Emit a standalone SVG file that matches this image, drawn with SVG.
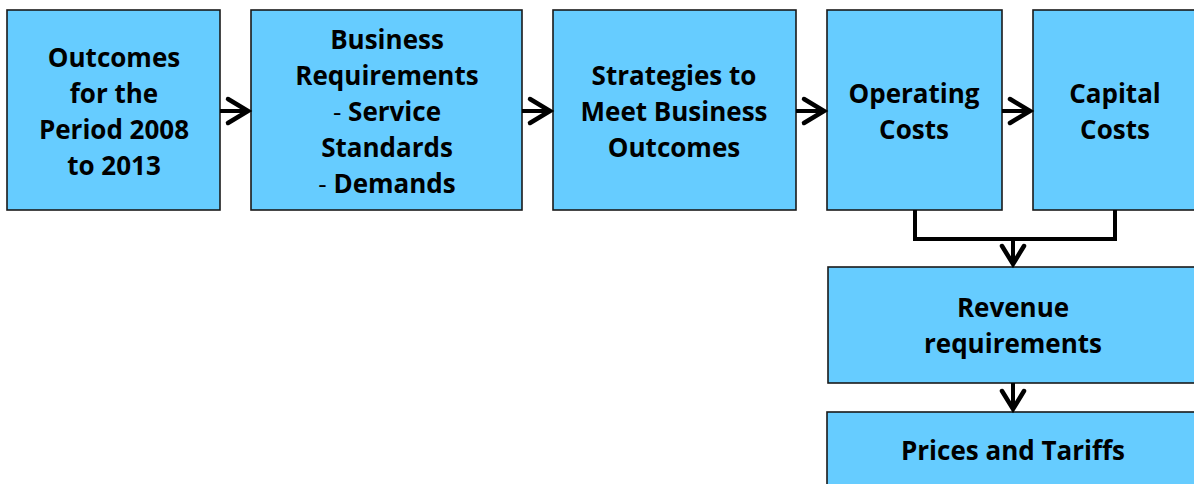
<svg xmlns="http://www.w3.org/2000/svg" width="1194" height="484" viewBox="0 0 1194 484">
  <style>
    .box { fill: #66CCFF; stroke: #1a1a1a; stroke-width: 1.6; }
    .lbl { font-family: "Open Sans", "Liberation Sans", sans-serif; font-weight: bold; font-size: 26px; fill: #000; text-anchor: middle; }
    .dash { font-weight: normal; }
    .wire { fill: none; stroke: #000; stroke-width: 4; }
    .head { fill: none; stroke: #000; stroke-width: 4.5; stroke-linecap: round; stroke-linejoin: miter; }
  </style>
  <rect width="1194" height="484" fill="#fff"/>

  <g id="outcomes">
    <rect class="box" x="7" y="10" width="213" height="200"/>
    <text class="lbl" x="114" y="67">Outcomes</text>
    <text class="lbl" x="114" y="103">for the</text>
    <text class="lbl" x="114" y="139">Period 2008</text>
    <text class="lbl" x="114" y="175">to 2013</text>
  </g>

  <g id="business-requirements">
    <rect class="box" x="251" y="10" width="271" height="200"/>
    <text class="lbl" x="387" y="49">Business</text>
    <text class="lbl" x="387" y="85">Requirements</text>
    <text class="lbl" x="387" y="121"><tspan class="dash">- </tspan>Service</text>
    <text class="lbl" x="387" y="157">Standards</text>
    <text class="lbl" x="387" y="193"><tspan class="dash">- </tspan>Demands</text>
  </g>

  <g id="strategies">
    <rect class="box" x="553" y="10" width="243" height="200"/>
    <text class="lbl" x="674" y="85">Strategies to</text>
    <text class="lbl" x="674" y="121">Meet Business</text>
    <text class="lbl" x="674" y="157">Outcomes</text>
  </g>

  <g id="operating-costs">
    <rect class="box" x="827" y="10" width="175" height="200"/>
    <text class="lbl" x="914" y="103">Operating</text>
    <text class="lbl" x="914" y="139">Costs</text>
  </g>

  <g id="capital-costs">
    <rect class="box" x="1033" y="10" width="170" height="200"/>
    <text class="lbl" x="1115" y="103">Capital</text>
    <text class="lbl" x="1115" y="139">Costs</text>
  </g>

  <g id="revenue-requirements">
    <rect class="box" x="828" y="267" width="375" height="116"/>
    <text class="lbl" x="1013" y="317">Revenue</text>
    <text class="lbl" x="1013" y="353">requirements</text>
  </g>

  <g id="prices-tariffs">
    <rect class="box" x="827" y="412" width="376" height="80"/>
    <text class="lbl" x="1013" y="460">Prices and Tariffs</text>
  </g>

  <g id="connectors">
    <!-- horizontal flow -->
    <line class="wire" x1="220" y1="111" x2="248" y2="111"/>
    <polyline class="head" points="228,99 248,111 228,123"/>
    <line class="wire" x1="522" y1="111" x2="550" y2="111"/>
    <polyline class="head" points="530,99 550,111 530,123"/>
    <line class="wire" x1="796" y1="111" x2="824" y2="111"/>
    <polyline class="head" points="804,99 824,111 804,123"/>
    <line class="wire" x1="1002" y1="111" x2="1030" y2="111"/>
    <polyline class="head" points="1010,99 1030,111 1010,123"/>
    <!-- cost merge into revenue -->
    <polyline class="wire" points="915,210 915,239 1115,239 1115,210"/>
    <line class="wire" x1="1013" y1="239" x2="1013" y2="264"/>
    <polyline class="head" points="1002,246 1013,264 1024,246"/>
    <!-- revenue to prices -->
    <line class="wire" x1="1013" y1="383" x2="1013" y2="409"/>
    <polyline class="head" points="1002,391 1013,409 1024,391"/>
  </g>
</svg>
